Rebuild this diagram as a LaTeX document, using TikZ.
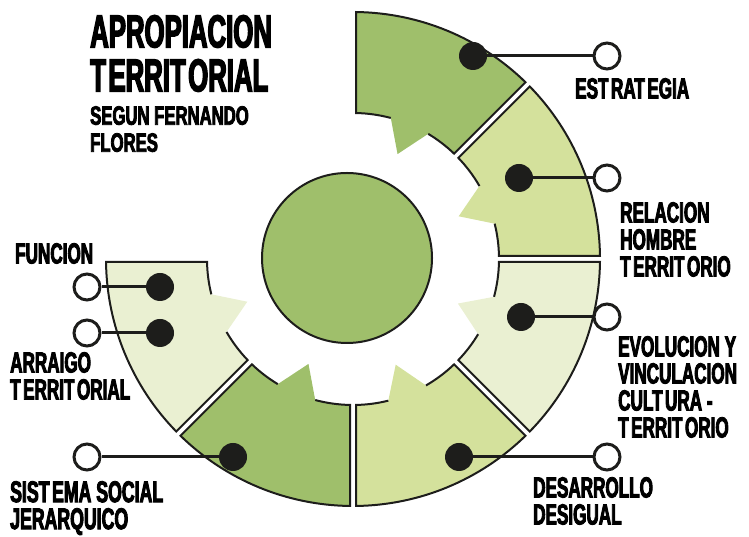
\documentclass[tikz,border=0pt]{standalone}
\usepackage{fontspec}
\newfontfamily\lblfont{Liberation Sans}[FakeStretch=0.59,FakeBold=3]
\newfontfamily\titlefont{Liberation Sans}[FakeStretch=0.56,FakeBold=3]
\newfontfamily\subfont{Liberation Sans}[FakeStretch=0.63,FakeBold=3]
% the lettering leaves a gap after each T
\XeTeXinterchartokenstate=1
\newXeTeXintercharclass\tcls
\XeTeXcharclass`\T=\tcls
\XeTeXinterchartoks\tcls 0 = {\kern2.5pt}
\definecolor{gmid}{HTML}{9FBF6B}
\definecolor{glight}{HTML}{D4E19C}
\definecolor{gpale}{HTML}{EAF0D2}
\definecolor{ink}{HTML}{1D1D1B}
\tikzset{
  rim/.style={draw=ink, line width=2pt},
  link/.style={draw=ink, line width=3pt},
  dot/.style={circle, fill=ink, minimum size=28pt, inner sep=0pt},
  knob/.style={circle, draw=ink, fill=white, line width=3pt, minimum size=26pt, inner sep=0pt},
  lbl/.style={anchor=north west, inner sep=0pt, align=left, font=\lblfont\bfseries\fontsize{29}{27}\selectfont},
}
\begin{document}
\begin{tikzpicture}[x=1pt,y=1pt]
\useasboundingbox (0,0) rectangle (749,537);
\def\rOut{247} \def\rIn{146} \def\rTip{114} \def\rGap{3}
\begin{scope}[shift={(353,278)}]
\foreach \a/\col in {90/gmid,45/glight,0/gpale,-45/glight,-90/gmid,-135/gpale}{
  \pgfmathsetmacro\ao{\a-asin(\rGap/\rOut)}
  \pgfmathsetmacro\ai{\a-asin(\rGap/\rIn)}
  \pgfmathsetmacro\bo{\a-45+asin(\rGap/\rOut)}
  \pgfmathsetmacro\bi{\a-45+asin(\rGap/\rIn)}
  \pgfmathsetmacro\ta{\a-15}
  \pgfmathsetmacro\tb{\a-31}
  \pgfmathsetmacro\tc{\a-23}
  \fill[\col] (\ao:\rOut) arc[start angle=\ao, end angle=\bo, radius=\rOut] -- (\bi:\rIn)
    arc[start angle=\bi, end angle=\tb, radius=\rIn] -- (\tc:\rTip) -- (\ta:\rIn)
    arc[start angle=\ta, end angle=\ai, radius=\rIn] -- cycle;
  \draw[rim] (\ta:\rIn) arc[start angle=\ta, end angle=\ai, radius=\rIn] -- (\ao:\rOut)
    arc[start angle=\ao, end angle=\bo, radius=\rOut] -- (\bi:\rIn)
    arc[start angle=\bi, end angle=\tb, radius=\rIn];
}
\end{scope}
\draw[rim, fill=gmid] (347,279) circle[radius=85];

\node[dot] (estrDot) at (473,481) {};
\node[knob] (estrEnd) at (607,481) {};
\node[dot] (relDot) at (519,359) {};
\node[knob] (relEnd) at (607,359) {};
\node[dot] (evoDot) at (521,220) {};
\node[knob] (evoEnd) at (607,220) {};
\node[dot] (desDot) at (459,80) {};
\node[knob] (desEnd) at (607,80) {};
\node[dot] (sisDot) at (233,80) {};
\node[knob] (sisEnd) at (87,80) {};
\node[dot] (funDot) at (160,250) {};
\node[knob] (funEnd) at (87,250) {};
\node[dot] (arrDot) at (160,204) {};
\node[knob] (arrEnd) at (87,204) {};
\foreach \n in {estr,rel,evo,des,sis,fun,arr}
  \draw[link] (\n Dot) -- (\n End);

\node[lbl, font=\titlefont\bfseries\fontsize{46}{44}\selectfont] (title) at (90,522) {APROPIACION\\TERRITORIAL};
\node[lbl, font=\subfont\bfseries\fontsize{26.5}{27}\selectfont] (subtitle) at (90,431) {SEGUN FERNANDO\\FLORES};
\node[lbl] (estrText) at (575,459) {ESTRATEGIA};
\node[lbl] (relText) at (620,335) {RELACION\\HOMBRE\\TERRITORIO};
\node[lbl] (evoText) at (618,201) {EVOLUCION Y\\VINCULACION\\CULTURA -\\TERRITORIO};
\node[lbl] (desText) at (533,60) {DESARROLLO\\DESIGUAL};
\node[lbl] (funText) at (15,294) {FUNCION};
\node[lbl] (arrText) at (10,185) {ARRAIGO\\TERRITORIAL};
\node[lbl, font=\lblfont\bfseries\fontsize{30}{27}\selectfont] (sisText) at (10,56) {SISTEMA SOCIAL\\JERARQUICO};
\end{tikzpicture}
\end{document}
